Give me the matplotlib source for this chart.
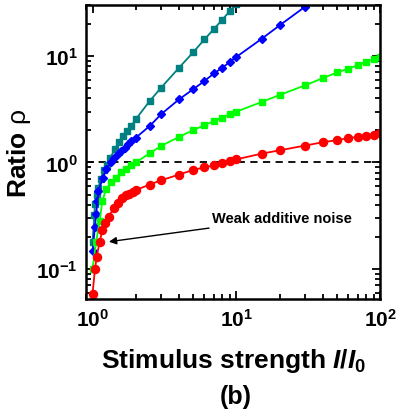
import numpy as np
import matplotlib
matplotlib.use("Agg")
import matplotlib.pyplot as plt
from matplotlib.ticker import LogLocator, FixedLocator, NullFormatter

plt.rcParams['font.family'] = ['Liberation Sans', 'DejaVu Sans']
plt.rcParams['font.weight'] = 'bold'
plt.rcParams['mathtext.fontset'] = 'custom'
plt.rcParams['mathtext.rm'] = 'Liberation Sans:bold'
plt.rcParams['mathtext.it'] = 'Liberation Sans:bold:italic'
plt.rcParams['mathtext.bf'] = 'Liberation Sans:bold'
plt.rcParams['mathtext.sf'] = 'Liberation Sans:weight=normal'

# Ratio rho against stimulus strength I/I0, four noise levels
x_red = [1.0, 1.04, 1.07, 1.12, 1.17, 1.23, 1.3, 1.4, 1.5, 1.6, 1.7, 1.8, 1.9, 2.0,
         2.5, 3, 4, 5, 6, 7, 8, 9, 10, 15, 20, 30, 40, 50, 60, 70, 80, 90, 100]
y_red = [0.058, 0.10, 0.13, 0.18, 0.23, 0.27, 0.31, 0.37, 0.42, 0.46, 0.49, 0.51, 0.53, 0.55,
         0.62, 0.68, 0.77, 0.85, 0.90, 0.94, 0.99, 1.03, 1.07, 1.21, 1.30, 1.44, 1.55, 1.62,
         1.69, 1.74, 1.79, 1.83, 1.90]

x_green = [1.0, 1.06, 1.12, 1.17, 1.24, 1.35, 1.46, 1.58, 1.72, 1.86, 2.0, 2.5,
           3, 4, 5, 6, 7, 8, 9, 10, 15, 20, 30, 40, 50, 60, 70, 80, 90, 100]
y_green = [0.10, 0.18, 0.28, 0.43, 0.56, 0.65, 0.72, 0.81, 0.87, 0.94, 1.0, 1.22,
           1.43, 1.74, 2.01, 2.24, 2.45, 2.64, 2.84, 3.0, 3.7, 4.3, 5.3, 6.2, 7.0, 7.6,
           8.2, 8.8, 9.3, 9.8]

x_blue = [1.0, 1.04, 1.06, 1.08, 1.1, 1.18, 1.25, 1.35, 1.42, 1.5, 1.58, 1.67, 1.76,
          1.86, 2.0, 2.5, 3, 4, 5, 6, 7, 8, 9, 10, 15, 20, 30, 40]
y_blue = [0.146, 0.25, 0.33, 0.43, 0.54, 0.72, 0.87, 1.01, 1.11, 1.2, 1.28, 1.38, 1.48,
          1.59, 1.71, 2.2, 2.84, 3.92, 4.86, 5.82, 6.87, 7.77, 8.77, 9.8, 14.5, 19.4, 29.0, 38.0]

x_teal = [1.0, 1.03, 1.04, 1.07, 1.1, 1.14, 1.2, 1.27, 1.33, 1.43, 1.52, 1.63, 1.75,
          1.86, 2.0, 2.5, 3, 4, 5, 6, 7, 8, 9, 10]
y_teal = [0.18, 0.32, 0.41, 0.49, 0.58, 0.70, 0.85, 0.95, 1.11, 1.33, 1.56, 1.78, 1.98,
          2.2, 2.55, 3.78, 5.04, 7.77, 10.8, 14.3, 18.0, 22.0, 26.4, 31.0]

fig = plt.figure(figsize=(3.96, 4.14), dpi=100)
ax = fig.add_axes([0.217, 0.275, 0.743, 0.71])

ax.axhline(1.0, color='black', linestyle=(0, (4, 3)), linewidth=1.3, zorder=1)

ax.plot(x_teal, y_teal, color='#008080', marker='s', markersize=5, linewidth=1.3)
ax.plot(x_blue, y_blue, color='#0000ff', marker='D', markersize=4.2, linewidth=1.3)
ax.plot(x_green, y_green, color='#00ff00', marker='s', markersize=5, linewidth=1.3)
ax.plot(x_red, y_red, color='#ff0000', marker='o', markersize=5.8, linewidth=1.3)

ax.set_xscale('log')
ax.set_yscale('log')
ax.set_xlim(0.9, 100)
ax.set_ylim(0.052, 30)

ax.xaxis.set_major_locator(FixedLocator([1, 10, 100]))
ax.yaxis.set_major_locator(FixedLocator([0.1, 1, 10]))
ax.xaxis.set_minor_locator(LogLocator(base=10, subs=np.arange(2, 10)))
ax.yaxis.set_minor_locator(LogLocator(base=10, subs=np.arange(2, 10)))
ax.xaxis.set_minor_formatter(NullFormatter())
ax.yaxis.set_minor_formatter(NullFormatter())
ax.set_xticklabels([r'$10^{0}$', r'$10^{1}$', r'$10^{2}$'])
ax.set_yticklabels([r'$10^{-1}$', r'$10^{0}$', r'$10^{1}$'])

ax.tick_params(which='both', direction='in', top=True, right=True, width=1.3)
ax.tick_params(which='major', length=6, labelsize=15, pad=6)
ax.tick_params(which='minor', length=3.5)
for sp in ax.spines.values():
    sp.set_linewidth(1.8)

ax.set_xlabel(r'Stimulus strength $I$/$I_0$', fontsize=19, fontweight='bold', labelpad=12)
ax.set_ylabel(r'Ratio $\mathsf{\rho}$', fontsize=19, fontweight='bold', labelpad=2)
fig.text(0.596, 0.04, '(b)', fontsize=18, fontweight='bold', ha='center', va='center')

ax.annotate('Weak additive noise', xy=(1.3, 0.18), xytext=(6.8, 0.30),
            fontsize=10.5, fontweight='bold', va='center', ha='left',
            arrowprops=dict(arrowstyle='-|>', color='black', lw=1.0,
                            mutation_scale=11, shrinkA=1, shrinkB=0))

fig.savefig('out.png', dpi=100)
